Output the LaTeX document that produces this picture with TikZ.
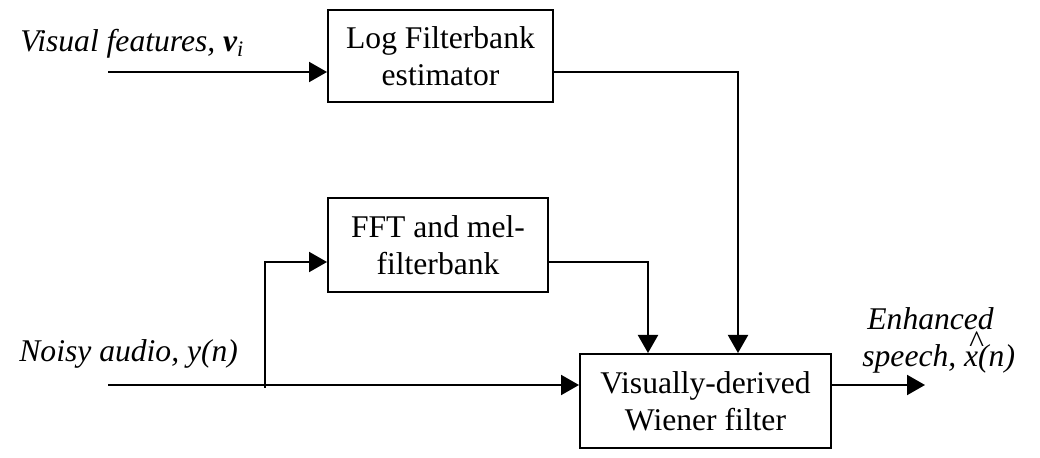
\documentclass[tikz,border=0pt]{standalone}
\usepackage{fontspec}
\setmainfont{Liberation Serif}
\usetikzlibrary{arrows.meta}
\newcommand{\hatx}{\makebox[0pt][l]{\hspace{0.14em}\raisebox{0.45em}{\^{}}}x}
\begin{document}
\begin{tikzpicture}[x=0.5pt,y=-0.5pt,
  blk/.style={draw,line width=1pt,align=center,inner sep=0pt,
    font=\fontsize{15.8}{18.5}\selectfont},
  lbl/.style={inner sep=0pt,font=\fontsize{15.8}{18.5}\selectfont\itshape},
  conn/.style={line width=1pt},
  arr/.style={conn,-{Triangle[length=9pt,width=10pt]}}]
\useasboundingbox (0,0) rectangle (1040,458);
\node[blk,minimum width=112.5pt,minimum height=46pt] (log) at (440.5,56) {Log Filterbank\\estimator};
\node[blk,minimum width=110pt,minimum height=47pt] (fft) at (438,245) {FFT and mel-\\filterbank};
\node[blk,minimum width=125.5pt,minimum height=47pt] (wien) at (705.5,401) {Visually-derived\\Wiener filter};
\node[lbl,anchor=base west] (lv) at (20,52) {Visual features, \textbf{v}\textsubscript{\textit{i}}};
\node[lbl,anchor=base west] (ln) at (19,362) {Noisy audio, y(n)};
\node[lbl,anchor=base west] (le) at (867,330) {Enhanced};
\node[lbl,anchor=base west] (ls) at (862,367) {speech, \hatx(n)};
\coordinate (vs) at (108,72);
\coordinate (t1) at (738,72);
\coordinate (ns) at (108,385);
\coordinate (br) at (265,388);
\coordinate (fi) at (265,262);
\coordinate (t2) at (648,262);
\coordinate (out) at (925,385);
\draw[arr] (vs) -- (vs -| log.west);
\draw[arr] (log.east |- t1) -- (t1) -- (t1 |- wien.north);
\draw[arr] (ns) -- (ns -| wien.west);
\draw[arr] (br) -- (fi) -- (fi -| fft.west);
\draw[arr] (fft.east |- t2) -- (t2) -- (t2 |- wien.north);
\draw[arr] (wien.east |- out) -- (out);
\end{tikzpicture}
\end{document}
